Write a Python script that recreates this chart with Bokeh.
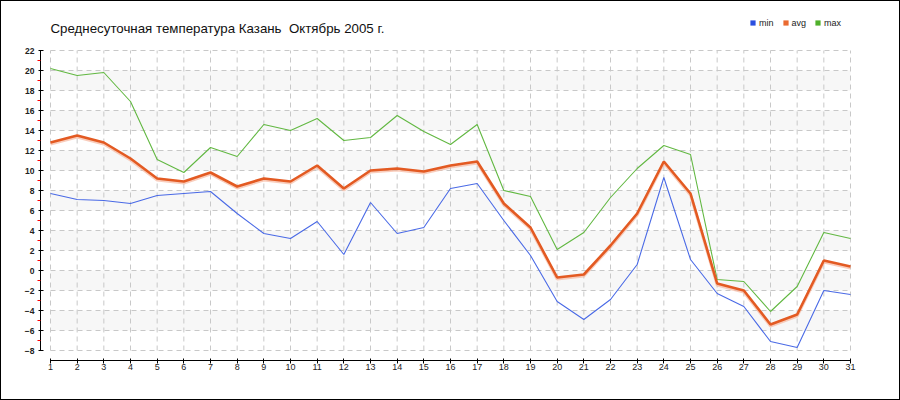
from bokeh.plotting import figure
from bokeh.layouts import column
from bokeh.models import Range1d, FixedTicker, Legend, LegendItem, ColumnDataSource, Label
from bokeh.embed import file_html
from bokeh.resources import INLINE
from bokeh.transform import dodge

# ---- data ----
days = list(range(1, 32))
t_min = [7.7, 7.1, 7.0, 6.7, 7.5, 7.7, 7.9, 5.7, 3.7, 3.2, 4.9, 1.6, 6.8, 3.7, 4.3, 8.2,
         8.7, 5.0, 1.5, -3.1, -4.9, -2.9, 0.6, 9.3, 1.1, -2.3, -3.6, -7.1, -7.7, -2.0, -2.4]
t_avg = [12.8, 13.5, 12.8, 11.2, 9.2, 8.9, 9.8, 8.4, 9.2, 8.9, 10.5, 8.2, 10.0, 10.2, 9.9, 10.5,
         10.9, 6.7, 4.3, -0.7, -0.4, 2.5, 5.7, 10.9, 7.7, -1.3, -2.0, -5.4, -4.4, 1.0, 0.4]
t_max = [20.2, 19.5, 19.8, 16.9, 11.1, 9.8, 12.3, 11.4, 14.6, 14.0, 15.2, 13.0, 13.3, 15.5, 13.9, 12.6,
         14.6, 8.0, 7.4, 2.1, 3.8, 7.3, 10.2, 12.5, 11.6, -0.9, -1.1, -4.1, -1.6, 3.8, 3.2]
y_ticks = list(range(-8, 23, 2))
y_minor_ticks = list(range(-7, 22, 2))
band_bottom = [18, 14, 10, 6, 2, -2, -6]
band_top = [20, 16, 12, 8, 4, 0, -4]
series_names = ["min", "avg", "max"]
series_keys = ["tmin", "tavg", "tmax"]
title_text = "Среднесуточная температура Казань \u00a0Октябрь 2005 г."

src = ColumnDataSource(dict(day=days, tmin=t_min, tavg=t_avg, tmax=t_max))

p = figure(width=898, height=398, output_backend="svg", toolbar_location=None,
           title_location=None,
           x_range=Range1d(0.625, 31.0375), y_range=Range1d(-9, 26.9),
           min_border_left=39, min_border_right=48, min_border_top=0, min_border_bottom=39,
           background_fill_color="white", border_fill_color="white")
p.outline_line_color = None
p.xgrid.visible = False
p.ygrid.visible = False

# alternating bands
p.quad(left=days[0], right=days[-1], bottom=band_bottom, top=band_top,
       fill_color="#f7f7f7", line_color=None)
# dashed grid
p.segment(x0=days[0], x1=days[-1], y0=y_ticks, y1=y_ticks,
          line_color="#c8c8c8", line_width=1, line_dash="5 4")
p.segment(x0=days, x1=days, y0=y_ticks[0], y1=y_ticks[-1],
          line_color="#c8c8c8", line_width=1, line_dash="5 4")

# series
p.line(x="day", y="tmin", source=src, line_color="#4a6ae6", line_width=1.1)
p.line(x="day", y="tmax", source=src, line_color="#62b842", line_width=1.1)
p.line(x="day", y=dodge("tavg", -0.15, range=p.y_range), source=src,
       line_color="#f6b8a0", line_width=3, line_alpha=0.7)
p.line(x="day", y="tavg", source=src, line_color="#e35a22", line_width=2.6)

# axes
xa = p.xaxis[0]
xa.ticker = FixedTicker(ticks=days, minor_ticks=[])
xa.bounds = (days[0], days[-1])
xa.axis_line_color = "black"
xa.major_tick_line_color = "black"
xa.major_tick_in = 2
xa.major_tick_out = 3
xa.minor_tick_line_color = None
xa.major_label_standoff = 0
xa.major_label_text_font = "Liberation Sans"
xa.major_label_text_font_size = "9px"
xa.major_label_text_color = "#222222"

ya = p.yaxis[0]
ya.ticker = FixedTicker(ticks=y_ticks, minor_ticks=y_minor_ticks)
ya.bounds = (y_ticks[0], y_ticks[-1])
ya.axis_line_color = "black"
ya.major_tick_line_color = "black"
ya.major_tick_in = 3
ya.major_tick_out = 2
ya.minor_tick_line_color = "red"
ya.minor_tick_in = 0
ya.minor_tick_out = 3
ya.major_label_standoff = 3
ya.major_label_text_font = "Liberation Sans"
ya.major_label_text_font_style = "bold"
ya.major_label_text_font_size = "8.5px"
ya.major_label_text_color = "#222222"

# title (inside the frame's empty upper area)
p.add_layout(Label(x=10, y=332, x_units="screen", y_units="screen", text=title_text,
                   text_font="Liberation Sans", text_font_size="13.3px", text_color="#111111",
                   text_baseline="alphabetic", text_align="left"))

# legend (zero-size square markers: only their legend swatches show)
legend_colors = ["#2a4fe0", "#ea6a30", "#4fb02a"]
items = []
for name, key, col in zip(series_names, series_keys, legend_colors):
    r = p.scatter(x="day", y=key, source=src, marker="square", size=0,
                  fill_color=col, line_color=None)
    items.append(LegendItem(label=name, renderers=[r]))
legend = Legend(items=items, orientation="horizontal", location=(706, 331),
                padding=0, margin=0, spacing=5, glyph_width=13, glyph_height=13,
                label_standoff=0, label_width=1, label_height=10,
                label_text_font="Liberation Sans", label_text_font_size="9px",
                label_text_color="#222222",
                border_line_color=None, background_fill_alpha=0)
p.add_layout(legend, "center")

layout = column(p, styles={"border": "1px solid black"})

open("out.html", "w").write(file_html(layout, INLINE))
